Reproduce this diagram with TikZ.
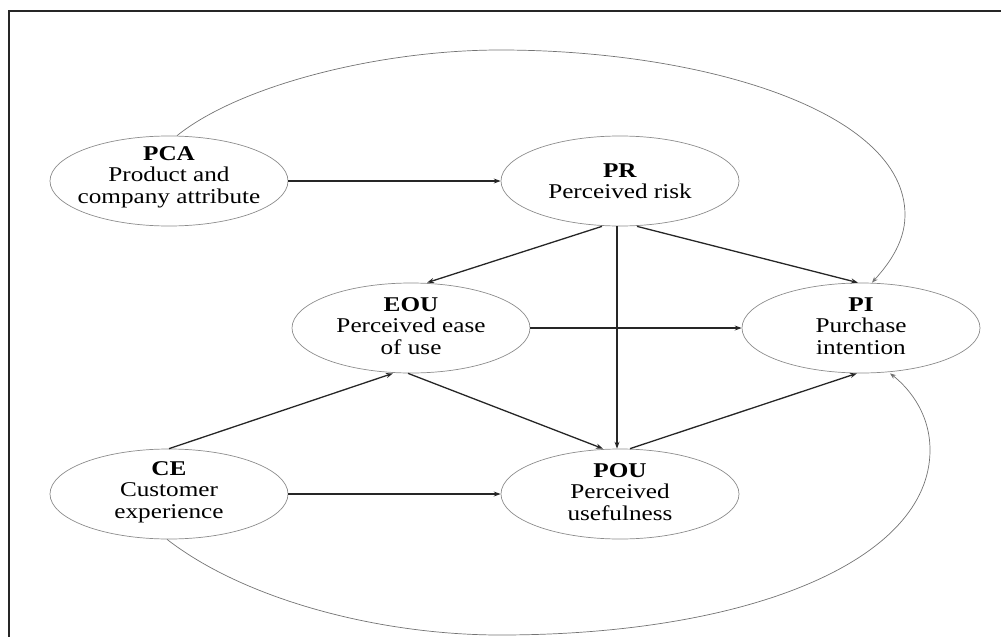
\documentclass[tikz,border=0pt]{standalone}
\usepackage{fontspec}
\setmainfont{Liberation Serif}[FakeStretch=1.2]
\usetikzlibrary{arrows.meta,shapes.geometric}
\begin{document}
\begin{tikzpicture}[x=1pt,y=-1pt,
  var/.style={ellipse,draw=black!45,line width=0.7pt,minimum width=238pt,minimum height=90pt,inner sep=0pt},
  txt/.style={align=center,inner sep=0pt,font=\fontsize{21}{21.5}\selectfont,text=black},
  link/.style={draw=black!85,line width=1.3pt,-{Stealth[length=7pt,width=5pt]}},
  curv/.style={draw=black!55,line width=0.7pt,-{Stealth[length=6pt,width=4.5pt]}}]
\useasboundingbox (0,0) rectangle (1001,637);
\draw[line width=1.8pt,black!85] (9,640) -- (9,11) -- (1004,11);
\node[var] (PCA) at (169,181) {};
\node[var] (PR)  at (620,181) {};
\node[var] (EOU) at (411,328) {};
\node[var] (PI)  at (861,328) {};
\node[var] (CE)  at (169,494) {};
\node[var] (POU) at (620,494) {};
\node[txt] (tPCA) at ([yshift=4pt]PCA.center) {\textbf{PCA}\\Product and\\company attribute};
\node[txt] (tPR)  at (PR.center) {\textbf{PR}\\Perceived risk};
\node[txt] (tEOU) at ([yshift=2pt]EOU.center) {\textbf{EOU}\\Perceived ease\\of use};
\node[txt] (tPI)  at ([yshift=2pt]PI.center) {\textbf{PI}\\Purchase\\intention};
\node[txt] (tCE)  at ([yshift=2pt]CE.center) {\textbf{CE}\\Customer\\experience};
\node[txt] (tPOU) at ([yshift=2pt]POU.center) {\textbf{POU}\\Perceived\\usefulness};
\draw[link] (PCA.east) -- (PR.west);
\draw[link] ([xshift=-18pt]PR.south) -- ([xshift=16pt]EOU.north);
\draw[link] ([xshift=-3pt]PR.south) -- ([xshift=-3pt]POU.north);
\draw[link] ([xshift=17pt]PR.south) -- ([xshift=-3pt]PI.north);
\draw[link] (EOU.east) -- (PI.west);
\draw[link] ([xshift=-3pt]EOU.south) -- ([xshift=-17pt]POU.north);
\draw[link] (CE.north) -- ([xshift=-18pt]EOU.south);
\draw[link] (CE.east) -- (POU.west);
\draw[link] ([xshift=10pt]POU.north) -- ([xshift=-4pt]PI.south);
\draw[curv] ([xshift=8pt]PCA.north) .. controls (240,85) and (380,50) .. (500,50)
  .. controls (700,50) and (905,110) .. (905,215)
  .. controls (905,245) and (885,268) .. ([xshift=11pt]PI.north);
\draw[curv] ([xshift=-2pt]CE.south) .. controls (245,600) and (380,635) .. (500,635)
  .. controls (750,635) and (930,560) .. (930,450)
  .. controls (930,410) and (905,385) .. ([xshift=29pt]PI.south);
\end{tikzpicture}
\end{document}
